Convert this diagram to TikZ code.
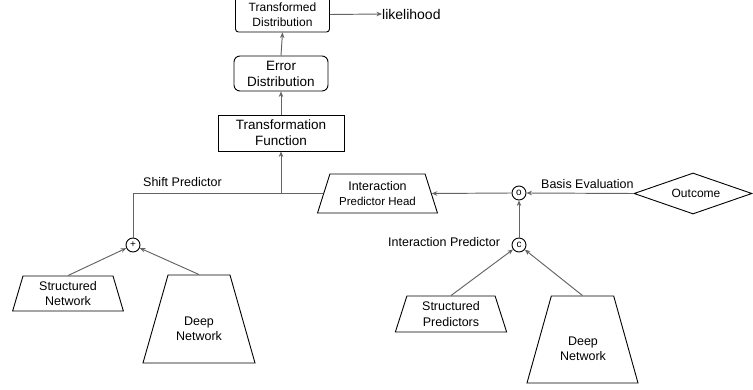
\documentclass[tikz,border=0pt]{standalone}
\usepackage{fontspec}
\setmainfont{Liberation Sans}
\usetikzlibrary{shapes.geometric,arrows.meta}
\definecolor{conncol}{HTML}{646464}
\tikzset{
  txt/.style={font=\fontsize{12.5}{15.5}\selectfont, align=center, inner sep=1pt},
  boxn/.style={draw=black, line width=0.9pt, align=center, inner sep=1pt},
  trap/.style={draw=black, line width=0.9pt, trapezium, trapezium stretches=true, align=center, inner sep=1pt, font=\fontsize{12.5}{15.5}\selectfont},
  opn/.style={draw=black, line width=0.9pt, circle, minimum size=14pt, inner sep=0pt, font=\fontsize{10}{10}\selectfont},
  conn/.style={draw=conncol, line width=0.95pt},
  arr/.style={conn, -{Stealth[length=5.5pt,width=4.5pt]}},
}
\begin{document}
\begin{tikzpicture}[x=1pt,y=-1pt]
\useasboundingbox (0,0) rectangle (753,390);
% top boxes
\node[boxn, rounded corners=3pt, minimum width=94pt, minimum height=35pt, font=\fontsize{12}{15}\selectfont] (td) at (282.5,14.5) {Transformed\\Distribution};
\node[boxn, rounded corners=6pt, minimum width=94pt, minimum height=35pt, font=\fontsize{13.5}{16}\selectfont] (ed) at (281,73.5) {Error\\Distribution};
\node[boxn, minimum width=126pt, minimum height=36pt, font=\fontsize{13.5}{16}\selectfont] (tf) at (281,133) {Transformation\\Function};
\node[anchor=west, inner sep=0pt, font=\fontsize{14}{16}\selectfont] (lik) at (382,14) {likelihood};
% trapezoids
\node[trap, minimum width=121pt, minimum height=39pt, trapezium left angle=69, trapezium right angle=69] (iph) at (377.5,193.5) {Interaction\\{\fontsize{11.5}{14}\selectfont Predictor Head}};
\node[trap, minimum width=111pt, minimum height=35pt, trapezium left angle=75.6, trapezium right angle=75.6] (sn) at (68,293.5) {Structured\\Network};
\node[trap, minimum width=112pt, minimum height=88pt, trapezium left angle=68, trapezium right angle=68] (dnl) at (199,319) {};
\node[txt] (dnlt) at (199,329) {Deep\\Network};
\node[trap, minimum width=112pt, minimum height=36pt, trapezium left angle=73.7, trapezium right angle=73.7] (sp) at (451,314) {Structured\\Predictors};
\node[trap, minimum width=111pt, minimum height=87pt, trapezium left angle=68.7, trapezium right angle=68.7] (dnr) at (582.5,339.5) {};
\node[txt] (dnrt) at (583,349) {Deep\\Network};
% diamond
\node[draw=black, line width=0.9pt, diamond, aspect=3, minimum width=118pt, minimum height=41pt, inner sep=0pt, font=\fontsize{12}{14}\selectfont] (out) at (693,193.5) {\hspace*{6pt}Outcome};
% operators
\node[opn] (plus) at (133,245) {\raisebox{-0.6pt}{+}};
\node[opn] (odot) at (519,193) {o};
\node[opn] (conc) at (519,245) {c};
% labels
\node[txt, anchor=base west] (shl) at (142,187) {Shift Predictor};
\node[txt, anchor=base west] (bel) at (540,189) {Basis Evaluation};
\node[txt, anchor=base west] (ipl) at (387,247) {Interaction Predictor};
% connectors
\coordinate (j) at (281,193);
\draw[arr] (tf.north) -- (ed.south);
\draw[arr] (ed.north) -- (td.south);
\draw[arr] (td.east) -- (lik.west);
\draw[conn] (plus.north) |- (iph.west);
\draw[arr] (j) -- (tf.south);
\draw[arr] (odot.west) -- (iph.east);
\draw[arr] (out.west) -- (odot.east);
\draw[arr] (conc.north) -- (odot.south);
\draw[arr] (sn.north) -- (plus);
\draw[arr] (dnl.north) -- (plus);
\draw[arr] (sp.north) -- (conc);
\draw[arr] (dnr.north) -- (conc);
\end{tikzpicture}
\end{document}
